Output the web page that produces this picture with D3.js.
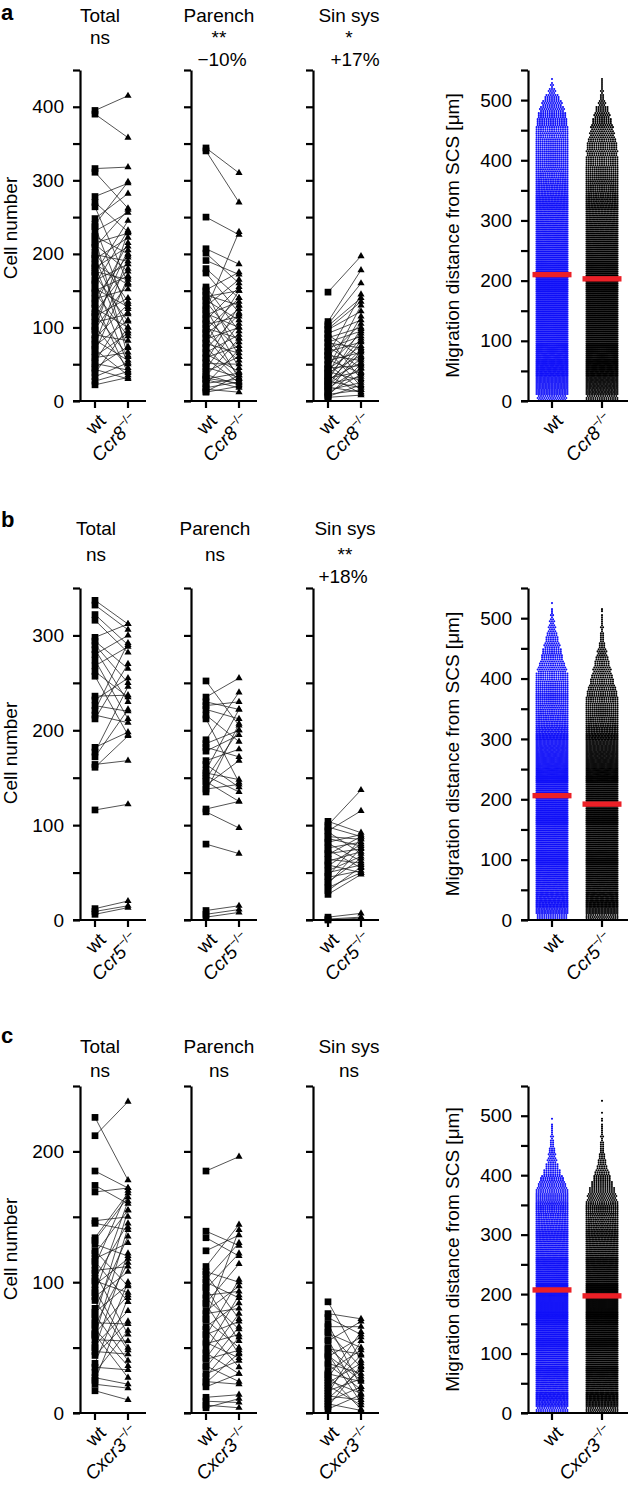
<!DOCTYPE html>
<html>
<head>
<meta charset="utf-8">
<script src="https://cdn.jsdelivr.net/npm/d3@7"></script>
<style>
  body { margin: 0; background: #fff; }
  svg { display: block; font-family: "Liberation Sans", Arial, Helvetica, sans-serif; }
</style>
</head>
<body>
<svg id="fig" width="628" height="1491"></svg>
<script>
// ---------- data ----------
const compartments = ['Total', 'Parench', 'Sin sys'];
const knockouts = ['Ccr8', 'Ccr5', 'Cxcr3'];
const stars = [['ns', '**', '*'], ['ns', 'ns', '**'], ['ns', 'ns', 'ns']];
const changes = [['', '−10%', '+17%'], ['', '', '+18%'], ['', '', '']];
const cellMax = [450, 350, 250];
const cellLabelStep = 100;

// panel a (wt vs Ccr8-/-), one entry per paired lymph node
const aTotalWt = [395, 390, 316, 311, 278, 270, 264, 248, 240, 237, 231, 224, 222, 215, 213, 209, 202, 199, 194, 193, 186, 184, 181, 176, 174, 171, 164, 162, 159, 153, 150, 147, 141, 139, 133, 131, 126, 120, 118, 115, 109, 107, 101, 98, 96, 90, 85, 83, 77, 75, 70, 67, 61, 59, 53, 51, 45, 43, 38, 33, 27, 22];
const aTotalKo = [415, 358, 318, 262, 296, 230, 160, 282, 298, 120, 256, 200, 60, 228, 176, 260, 135, 190, 95, 222, 158, 72, 210, 165, 245, 108, 186, 50, 232, 128, 170, 88, 198, 152, 38, 215, 100, 180, 62, 140, 205, 118, 45, 160, 230, 82, 132, 55, 195, 110, 35, 168, 92, 66, 125, 42, 74, 30, 100, 52, 40, 32];
const aParWt = [344, 340, 250, 207, 201, 191, 180, 174, 155, 151, 149, 144, 142, 137, 135, 129, 126, 124, 119, 117, 112, 110, 106, 104, 99, 97, 93, 91, 86, 84, 79, 78, 73, 71, 66, 64, 59, 58, 53, 51, 46, 44, 40, 36, 34, 30, 29, 24, 23, 18, 16, 13, 12, 31];
const aParKo = [310, 270, 226, 186, 160, 172, 140, 120, 95, 175, 60, 130, 150, 110, 80, 165, 45, 230, 100, 135, 70, 155, 30, 115, 85, 140, 55, 125, 35, 100, 150, 65, 28, 118, 90, 40, 75, 25, 130, 50, 32, 105, 60, 22, 85, 38, 18, 30, 70, 26, 12, 35, 20, 24];
const aSinWt = [148, 108, 104, 102, 98, 97, 92, 90, 86, 85, 80, 79, 74, 72, 68, 67, 62, 61, 56, 55, 50, 49, 45, 43, 40, 38, 35, 34, 31, 29, 27, 26, 23, 21, 19, 18, 15, 13, 11, 9, 7, 6, 5, 44, 63, 37, 28, 20];
const aSinKo = [197, 178, 160, 140, 135, 122, 110, 60, 100, 30, 95, 72, 45, 88, 20, 80, 55, 105, 38, 66, 15, 92, 48, 75, 28, 62, 10, 85, 40, 52, 18, 70, 33, 58, 12, 44, 25, 68, 36, 15, 50, 22, 8, 130, 145, 115, 98, 82];

// panel b (wt vs Ccr5-/-)
const bTotalWt = [337, 332, 322, 316, 298, 294, 290, 285, 280, 274, 268, 262, 257, 236, 232, 226, 221, 216, 212, 182, 177, 172, 164, 161, 116, 12, 9, 6];
const bTotalKo = [312, 306, 290, 282, 312, 265, 250, 230, 300, 212, 288, 235, 195, 237, 255, 220, 292, 208, 270, 198, 246, 222, 168, 194, 122, 20, 15, 13];
const bParWt = [252, 235, 230, 226, 222, 216, 212, 190, 186, 182, 178, 168, 164, 158, 155, 152, 149, 146, 142, 138, 135, 117, 114, 80, 10, 6, 3];
const bParKo = [205, 255, 222, 230, 212, 188, 145, 240, 200, 172, 195, 180, 140, 222, 148, 135, 200, 125, 168, 143, 207, 125, 97, 70, 15, 11, 8];
const bSinWt = [104, 100, 98, 94, 93, 88, 86, 82, 81, 76, 74, 70, 69, 64, 62, 58, 57, 52, 50, 46, 45, 40, 38, 34, 31, 27, 3, 1, 0];
const bSinKo = [92, 137, 88, 115, 70, 85, 78, 90, 62, 82, 55, 75, 88, 60, 72, 50, 80, 67, 58, 86, 52, 65, 76, 50, 56, 48, 7, 3, 2];

// panel c (wt vs Cxcr3-/-)
const cTotalWt = [226, 212, 185, 174, 169, 147, 145, 132, 129, 124, 122, 118, 116, 113, 109, 107, 103, 101, 98, 94, 92, 89, 77, 75, 72, 69, 67, 64, 61, 59, 56, 52, 50, 47, 44, 38, 35, 31, 27, 25, 22, 17, 80, 86, 134, 60];
const cTotalKo = [178, 238, 172, 160, 172, 150, 140, 165, 120, 97, 155, 130, 85, 170, 112, 60, 145, 92, 118, 50, 162, 108, 98, 40, 155, 68, 115, 36, 90, 142, 55, 78, 122, 45, 70, 100, 33, 63, 22, 88, 19, 10, 135, 48, 168, 27];
const cParWt = [185, 139, 134, 124, 112, 108, 106, 102, 100, 96, 95, 90, 88, 84, 83, 78, 76, 72, 71, 66, 64, 60, 59, 54, 53, 48, 46, 42, 41, 36, 35, 30, 28, 24, 23, 20, 12, 9, 6, 4];
const cParKo = [196, 128, 120, 136, 144, 100, 72, 130, 88, 55, 122, 93, 64, 114, 45, 97, 80, 140, 50, 84, 35, 70, 102, 42, 60, 90, 30, 76, 48, 24, 66, 40, 58, 22, 46, 30, 14, 8, 4, 11];
const cSinWt = [85, 76, 73, 68, 66, 62, 61, 56, 55, 50, 49, 45, 43, 38, 37, 32, 30, 27, 25, 23, 21, 19, 17, 15, 13, 11, 9, 7, 5, 3, 29, 44];
const cSinKo = [40, 72, 60, 20, 66, 35, 50, 12, 70, 28, 45, 8, 58, 30, 18, 48, 24, 62, 15, 38, 6, 44, 26, 55, 10, 33, 20, 2, 36, 14, 3, 25];

// migration distance: cells per 10 µm bin, starting at 0 µm
const migMax = 550;
const binWidth = 10;
const aMigWt = [40, 60, 66, 72, 76, 80, 84, 86, 90, 92, 95, 97, 99, 100, 102, 104, 105, 106, 106, 105, 104, 102, 100, 98, 96, 93, 90, 87, 84, 80, 77, 73, 70, 66, 63, 60, 57, 54, 52, 51, 50, 50, 48, 47, 46, 44, 42, 39, 34, 28, 20, 10, 4, 1];
const aMigKo = [44, 64, 70, 76, 80, 84, 88, 90, 93, 95, 97, 99, 101, 103, 104, 105, 106, 106, 105, 104, 102, 100, 98, 95, 92, 89, 86, 82, 78, 74, 70, 66, 62, 58, 56, 54, 52, 50, 48, 45, 44, 43, 42, 38, 34, 31, 27, 22, 18, 10, 6, 4, 3, 2];
const bMigWt = [42, 62, 68, 74, 78, 82, 86, 88, 91, 94, 96, 98, 100, 102, 104, 105, 106, 106, 105, 104, 102, 100, 97, 94, 91, 88, 84, 80, 76, 72, 68, 64, 60, 57, 54, 52, 51, 50, 49, 47, 45, 40, 35, 30, 27, 22, 18, 14, 10, 7, 4, 2, 1, 0];
const bMigKo = [46, 66, 72, 78, 82, 86, 90, 92, 95, 97, 99, 101, 103, 104, 105, 106, 106, 105, 104, 102, 100, 97, 94, 91, 88, 84, 80, 76, 72, 68, 64, 60, 56, 53, 51, 48, 45, 42, 38, 33, 29, 25, 21, 17, 13, 9, 6, 5, 4, 3, 2, 2, 0, 0];
const cMigWt = [44, 64, 70, 76, 80, 84, 88, 90, 93, 96, 98, 100, 102, 104, 105, 106, 106, 105, 104, 102, 100, 98, 95, 92, 88, 85, 81, 77, 73, 69, 65, 62, 59, 56, 54, 52, 49, 44, 38, 32, 24, 18, 13, 10, 8, 6, 4, 3, 2, 1, 0, 0, 0, 0];
const cMigKo = [46, 66, 72, 78, 82, 86, 90, 93, 95, 98, 100, 102, 104, 105, 106, 106, 105, 104, 102, 100, 98, 95, 92, 88, 85, 81, 77, 73, 69, 65, 61, 58, 55, 52, 49, 44, 40, 36, 30, 24, 20, 14, 11, 8, 6, 5, 4, 3, 2, 2, 1, 0, 1, 0];
const medianWt = [210, 206, 207];
const medianKo = [203, 192, 197];

// ---------- layout ----------
const FS = 19;
const AXW = 2.2;
const leftAxisX = [80, 191, 313];
const titleX = [100, 219, 349];
const migAxisX = 528;

const panels = [
  { letter: 'a', letterY: 20, titleY: 22, starY: 44, pctY: 66, top: 70, zero: 401, cellLabY: 228, dx: 0, pctDx: [0, 3, 6],
    wt: [aTotalWt, aParWt, aSinWt], ko: [aTotalKo, aParKo, aSinKo], migWt: aMigWt, migKo: aMigKo },
  { letter: 'b', letterY: 527, titleY: 535, starY: 561, pctY: 583, top: 588, zero: 920, cellLabY: 753, dx: -4, pctDx: [0, 0, -2],
    wt: [bTotalWt, bParWt, bSinWt], ko: [bTotalKo, bParKo, bSinKo], migWt: bMigWt, migKo: bMigKo },
  { letter: 'c', letterY: 1043, titleY: 1053, starY: 1077, pctY: 1099, top: 1086, zero: 1413, cellLabY: 1249, dx: 0, pctDx: [0, 0, 0],
    wt: [cTotalWt, cParWt, cSinWt], ko: [cTotalKo, cParKo, cSinKo], migWt: cMigWt, migKo: cMigKo }
];

const svg = d3.select('#fig');

function yAxis(g, y, ax, max, labelled) {
  g.append('g')
    .attr('transform', `translate(${ax},0)`)
    .call(d3.axisLeft(y)
      .tickValues(d3.range(0, max + 1, 50))
      .tickSize(7).tickSizeOuter(0).tickPadding(9)
      .tickFormat(d => labelled && d % cellLabelStep === 0 ? d : ''))
    .attr('font-family', null).attr('font-size', FS)
    .call(s => {
      s.selectAll('path, line').attr('stroke', '#000').attr('stroke-width', AXW);
      s.selectAll('text').attr('fill', '#000');
    });
}

function xAxis(g, x, ax, xEnd, zero, ko) {
  g.append('line')
    .attr('x1', ax - 7).attr('x2', xEnd).attr('y1', zero).attr('y2', zero)
    .attr('stroke', '#000').attr('stroke-width', AXW);
  x.domain().forEach(d => {
    const xx = x(d);
    g.append('line').attr('x1', xx).attr('x2', xx).attr('y1', zero).attr('y2', zero + 7)
      .attr('stroke', '#000').attr('stroke-width', AXW);
    const t = g.append('text')
      .attr('transform', `translate(${xx + 12},${zero + 21}) rotate(-45)`)
      .attr('text-anchor', 'end').attr('font-size', FS);
    if (d === 'wt') t.text('wt');
    else {
      t.append('tspan').attr('font-style', 'italic').text(ko);
      t.append('tspan').attr('font-size', 12).attr('dy', -8).text('−/−');
    }
  });
}

function pairedPlot(g, wt, ko, y, ax, koName) {
  const x = d3.scalePoint().domain(['wt', koName]).range([ax + 15, ax + 48]);
  const pairs = wt.map((v, i) => [v, ko[i]]);
  g.append('g').selectAll('line').data(pairs).join('line')
    .attr('x1', x('wt')).attr('x2', x(koName))
    .attr('y1', d => y(d[0])).attr('y2', d => y(d[1]))
    .attr('stroke', '#1a1a1a').attr('stroke-width', 0.75);
  g.append('g').selectAll('path').data(wt).join('path')
    .attr('d', d3.symbol(d3.symbolSquare, 45))
    .attr('transform', d => `translate(${x('wt')},${y(d)})`)
    .attr('fill', '#000');
  g.append('g').selectAll('path').data(ko).join('path')
    .attr('d', d3.symbol(d3.symbolTriangle, 22))
    .attr('transform', d => `translate(${x(koName)},${y(d)})`)
    .attr('fill', '#000');
  return x;
}

// dots of one column: each 10 µm bin is laid out in three rows of dots
function swarm(g, counts, cx, y, color) {
  const dots = [];
  counts.forEach((n, i) => {
    const b0 = i * binWidth;
    [1, 0, 2].forEach((j, r) => {
      const k = Math.floor(n / 3) + (r < n % 3 ? 1 : 0);
      const v = b0 + (j + 0.5) * binWidth / 3;
      const step = k > 1 ? Math.min(2.2, 31 / (k - 1)) : 0;
      for (let m = 0; m < k; m++) dots.push([cx + (m - (k - 1) / 2) * step, y(v)]);
    });
  });
  g.append('g').selectAll('circle').data(dots).join('circle')
    .attr('cx', d => d[0]).attr('cy', d => d[1]).attr('r', 1.05)
    .attr('fill', color);
}

panels.forEach((p, pi) => {
  const g = svg.append('g');
  g.append('text').attr('x', 1).attr('y', p.letterY)
    .attr('font-size', 22).attr('font-weight', 'bold').text(p.letter);

  const y = d3.scaleLinear().domain([0, cellMax[pi]]).range([p.zero, p.top]);

  g.append('text')
    .attr('transform', `translate(17,${p.cellLabY}) rotate(-90)`)
    .attr('text-anchor', 'middle').attr('font-size', FS).text('Cell number');

  compartments.forEach((name, k) => {
    const ax = leftAxisX[k];
    const tx = titleX[k] + p.dx;
    g.append('text').attr('x', tx).attr('y', p.titleY).attr('text-anchor', 'middle')
      .attr('font-size', FS).text(name);
    g.append('text').attr('x', tx).attr('y', p.starY).attr('text-anchor', 'middle')
      .attr('font-size', FS).text(stars[pi][k]);
    if (changes[pi][k]) {
      g.append('text').attr('x', tx + p.pctDx[k]).attr('y', p.pctY).attr('text-anchor', 'middle')
        .attr('font-size', FS).text(changes[pi][k]);
    }
    yAxis(g, y, ax, cellMax[pi], k === 0);
    const x = pairedPlot(g, p.wt[k], p.ko[k], y, ax, knockouts[pi]);
    xAxis(g, x, ax, ax + 66, p.zero, knockouts[pi]);
  });

  // migration distance scatter
  const ym = d3.scaleLinear().domain([0, migMax]).range([p.zero, p.top]);
  const xm = d3.scalePoint().domain(['wt', knockouts[pi]]).range([552, 602]);
  g.append('text')
    .attr('transform', `translate(459,${(p.zero + p.top) / 2}) rotate(-90)`)
    .attr('text-anchor', 'middle').attr('font-size', FS).text('Migration distance from SCS [μm]');
  swarm(g, p.migWt, xm('wt'), ym, '#1010f8');
  swarm(g, p.migKo, xm(knockouts[pi]), ym, '#000');
  [[medianWt[pi], 'wt'], [medianKo[pi], knockouts[pi]]].forEach(([m, grp]) => {
    g.append('rect').attr('x', xm(grp) - 19.5).attr('width', 39)
      .attr('y', ym(m) - 2.7).attr('height', 5.4).attr('fill', '#ec2027');
  });
  yAxis(g, ym, migAxisX, migMax, true);
  xAxis(g, xm, migAxisX, 628, p.zero, knockouts[pi]);
});
</script>
</body>
</html>
